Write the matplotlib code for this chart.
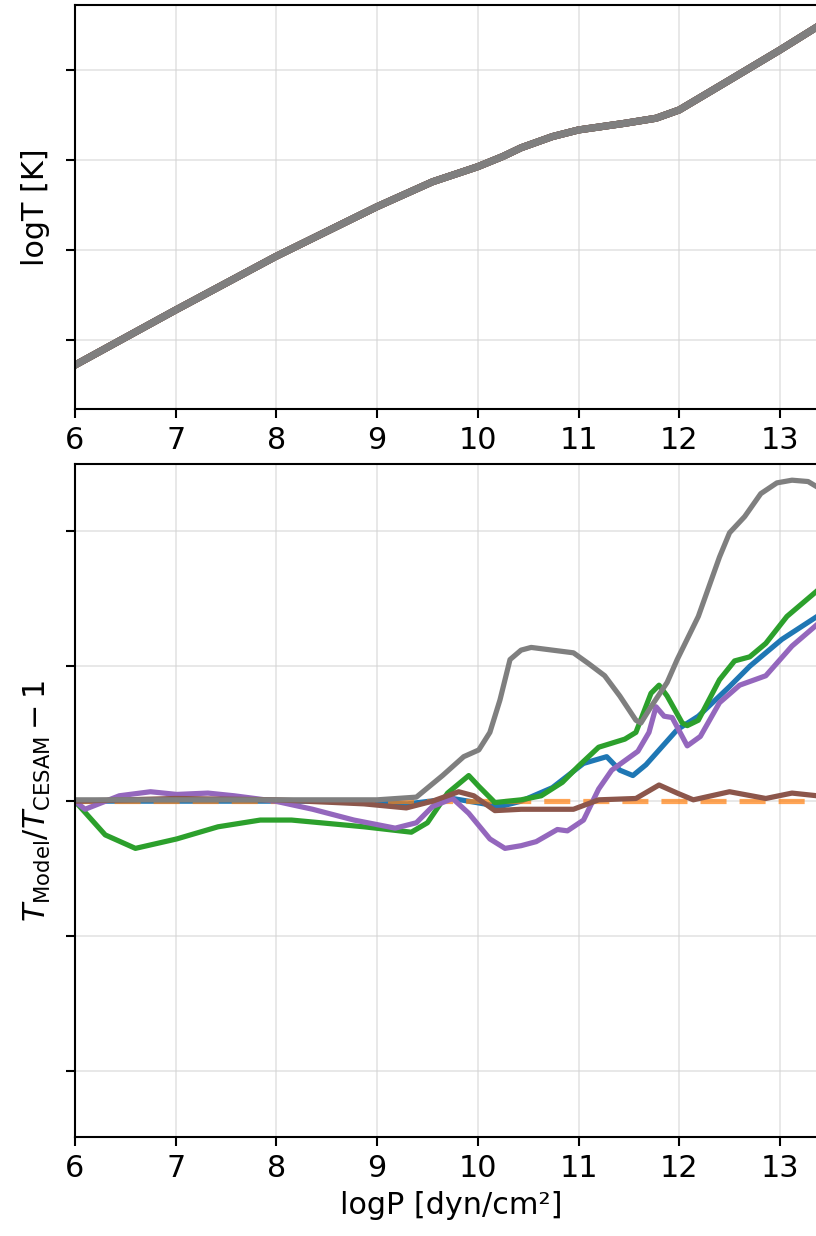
import numpy as np
import matplotlib.pyplot as plt

# logT del modelo de referencia (CESAM) en funcion de logP
logP_ref = [6.0, 7.0, 7.99, 9.0, 9.55, 10.0, 10.25, 10.43, 10.74, 11.0, 11.46, 11.77, 12.0, 12.5, 13.0, 13.37, 13.6]
logT_ref = [3.861, 4.167, 4.463, 4.741, 4.879, 4.963, 5.02, 5.068, 5.13, 5.167, 5.204, 5.232, 5.278, 5.444, 5.611, 5.74, 5.82]

# Diferencias relativas T_model/T_CESAM - 1
gris_x = [6.0, 9.0, 9.39, 9.65, 9.86, 10.01, 10.12, 10.22, 10.32, 10.43, 10.53, 10.74, 10.95, 11.1, 11.26, 11.41,
          11.57, 11.62, 11.72, 11.88, 11.98, 12.19, 12.4, 12.5, 12.65, 12.81, 12.97, 13.12, 13.28, 13.37, 13.6]
gris_y = [0.0001, 0.0001, 0.0003, 0.0019, 0.0033, 0.0038, 0.0051, 0.0075, 0.0105, 0.0112, 0.0114, 0.0112, 0.011,
          0.0102, 0.0093, 0.0078, 0.006, 0.0058, 0.007, 0.0088, 0.0105, 0.0137, 0.0181, 0.0199, 0.0211, 0.0228,
          0.0236, 0.0238, 0.0237, 0.0233, 0.022]

verde_x = [6.0, 6.3, 6.6, 7.01, 7.42, 7.84, 8.15, 8.87, 9.34, 9.5, 9.7, 9.91, 10.01, 10.17, 10.3, 10.43, 10.63, 10.84,
           11.0, 11.2, 11.46, 11.57, 11.72, 11.8, 11.88, 12.03, 12.08, 12.19, 12.4, 12.55, 12.7, 12.86, 13.07, 13.37, 13.6]
verde_y = [0.0, -0.0025, -0.0035, -0.0028, -0.0019, -0.0014, -0.0014, -0.0019, -0.0023, -0.0016, 0.0006, 0.0019,
           0.0011, -0.0001, 0.0, 0.0001, 0.0004, 0.0014, 0.0026, 0.004, 0.0046, 0.0051, 0.008, 0.0086, 0.0078,
           0.0058, 0.0056, 0.006, 0.009, 0.0104, 0.0107, 0.0117, 0.0137, 0.0156, 0.017]

azul_x = [6.0, 8.5, 9.3, 9.75, 10.22, 10.43, 10.74, 11.05, 11.28, 11.41, 11.54, 11.67, 11.98, 12.19, 12.5, 12.7,
          13.02, 13.37, 13.6]
azul_y = [0.0, 0.0, -0.0002, 0.0002, -0.0004, 0.0, 0.001, 0.0028, 0.0033, 0.0023, 0.0019, 0.0027, 0.0053, 0.0063,
          0.0085, 0.01, 0.012, 0.0137, 0.0148]

morado_x = [6.0, 6.1, 6.44, 6.75, 7.01, 7.32, 7.58, 7.99, 8.36, 8.77, 9.18, 9.39, 9.55, 9.75, 9.91, 10.12, 10.27,
            10.43, 10.58, 10.79, 10.89, 11.05, 11.2, 11.33, 11.59, 11.7, 11.77, 11.85, 11.93, 12.08, 12.21, 12.4,
            12.6, 12.86, 13.12, 13.37, 13.6]
morado_y = [0.0, -0.0006, 0.0004, 0.0007, 0.0005, 0.0006, 0.0004, 0.0, -0.0006, -0.0014, -0.002, -0.0016, -0.0004,
            0.0002, -0.0009, -0.0028, -0.0035, -0.0033, -0.003, -0.0021, -0.0022, -0.0014, 0.0009, 0.0023, 0.0037,
            0.0051, 0.007, 0.0063, 0.0062, 0.0041, 0.0048, 0.0073, 0.0086, 0.0093, 0.0115, 0.0131, 0.0142]

cafe_x = [6.0, 7.0, 8.0, 8.87, 9.29, 9.55, 9.81, 9.96, 10.17, 10.43, 10.69, 10.95, 11.2, 11.57, 11.8, 11.98, 12.14,
          12.5, 12.86, 13.12, 13.37, 13.6]
cafe_y = [0.0, 0.0002, 0.0001, -0.0002, -0.0005, 0.0, 0.0007, 0.0004, -0.0007, -0.0006, -0.0006, -0.0006, 0.0001,
          0.0002, 0.0012, 0.0006, 0.0001, 0.0007, 0.0002, 0.0006, 0.0004, 0.0004]

naranja_x = [6.0, 13.6]
naranja_y = [0.0, 0.0]

plt.rcParams['font.size'] = 14.5
plt.rcParams['axes.linewidth'] = 1.0

fig = plt.figure(figsize=(5.44, 8.24), dpi=150)
xmax = 13.47
ancho = (xmax - 6) * 100.7 / 816
ax1 = fig.add_axes([75 / 816, (1236 - 409) / 1236, ancho, 404 / 1236])
ax2 = fig.add_axes([75 / 816, (1236 - 1137) / 1236, ancho, 673 / 1236])

# Panel superior: logT
colores = ['C0', 'C1', 'C2', 'C4', 'C5', 'C7']
for c in colores:
    ax1.plot(logP_ref, logT_ref, color=c, lw=3.4)
ax1.set_xlim(6, xmax)
ax1.set_ylim(3.617, 5.861)
ax1.set_yticks([4.0, 4.5, 5.0, 5.5])
ax1.set_xticks(range(6, 14))
ax1.tick_params(labelleft=False, length=4.5, width=1.0)
ax1.grid(True, color='lightgray', alpha=0.6, lw=0.8)
ax1.set_ylabel('logT [K]', labelpad=7.5)

# Panel inferior: diferencias relativas
ax2.plot(azul_x, azul_y, color='C0', lw=2.5)
ax2.plot(naranja_x, naranja_y, color='C1', lw=2.5, ls='--', alpha=0.7, dashes=(5, 2.5))
ax2.plot(verde_x, verde_y, color='C2', lw=2.5)
ax2.plot(morado_x, morado_y, color='C4', lw=2.5)
ax2.plot(cafe_x, cafe_y, color='C5', lw=2.5)
ax2.plot(gris_x, gris_y, color='C7', lw=2.5)
ax2.set_xlim(6, xmax)
ax2.set_ylim(-0.0249, 0.025)
ax2.set_yticks([-0.02, -0.01, 0.0, 0.01, 0.02])
ax2.set_xticks(range(6, 14))
ax2.tick_params(labelleft=False, length=4.5, width=1.0)
ax2.grid(True, color='lightgray', alpha=0.6, lw=0.8)
ax2.set_ylabel(r'$T_{\rm Model}/T_{\rm CESAM} - 1$', labelpad=6)
ax2.set_xlabel('logP [dyn/cm²]')

plt.savefig('out.png', dpi=150)
